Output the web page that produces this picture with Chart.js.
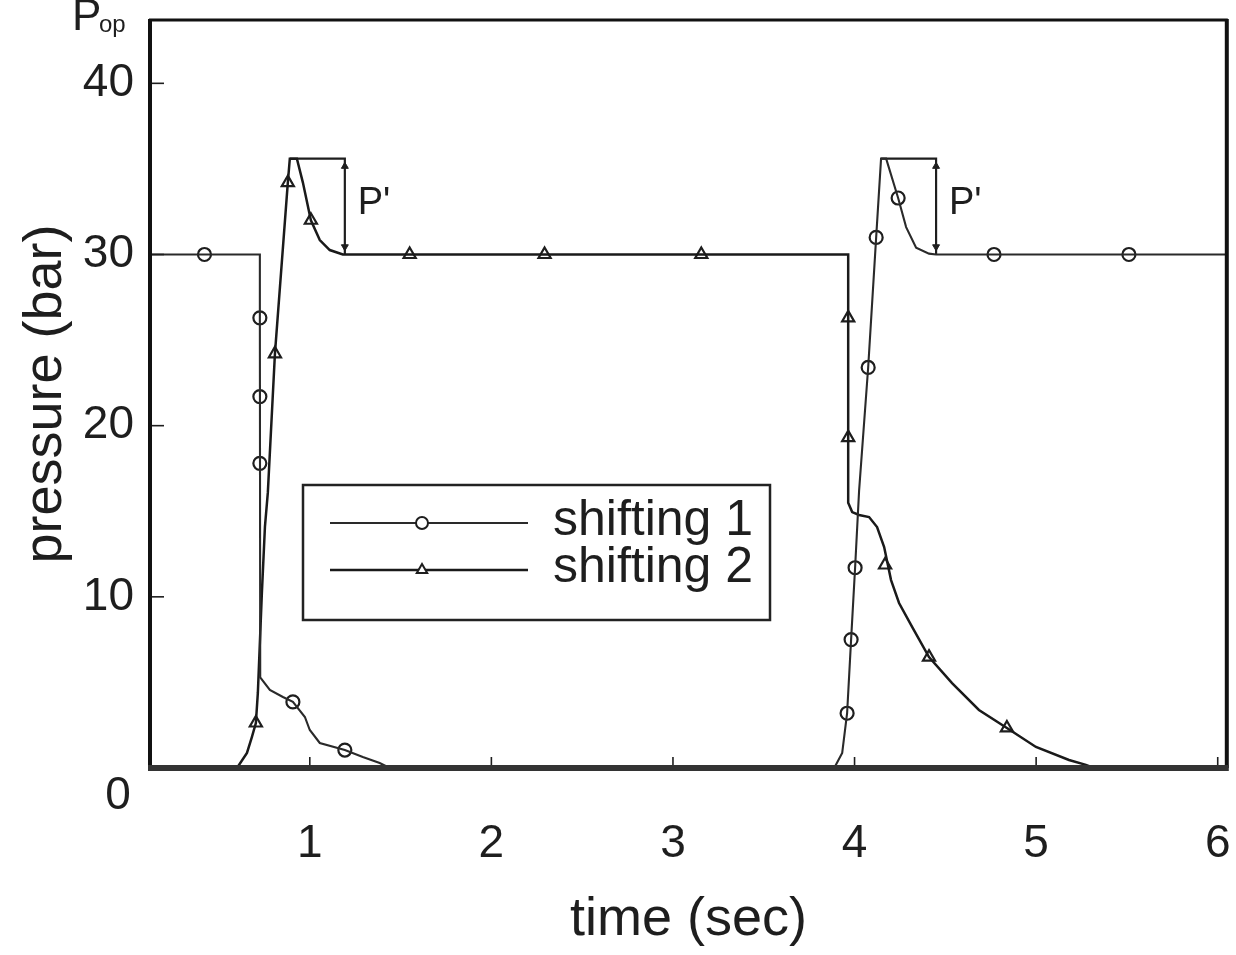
<!DOCTYPE html>
<html><head><meta charset="utf-8">
<script src="https://cdn.jsdelivr.net/npm/chart.js@4.4.1/dist/chart.umd.min.js"></script>
<style>html,body{margin:0;padding:0;background:#fff}#wrap{width:1236px;height:955px;position:relative}</style>
</head><body><div id="wrap"><canvas id="c" width="1236" height="955"></canvas></div>
<script>
// ---------- data (time in sec, pressure in bar) ----------
const seriesNames = ['shifting 1', 'shifting 2'];

const s1CurveX = [0, 0.725, 0.725, 0.727, 0.78, 0.852, 0.907, 0.973, 1.0, 1.055, 1.193, 1.292, 1.385, 1.44, 3.888, 3.932, 3.959, 3.981, 4.003, 4.025, 4.075, 4.119, 4.146, 4.174, 4.24, 4.284, 4.339, 4.41, 4.449, 6.1];
const s1CurveY = [30, 30, 26.3, 5.3, 4.56, 4.15, 3.86, 2.98, 2.22, 1.46, 1.05, 0.64, 0.29, 0, 0, 0.88, 3.2, 7.5, 11.7, 16.2, 23.4, 31.0, 35.6, 35.6, 33.3, 31.6, 30.4, 30.05, 30, 30];
const s1MarkX = [0.42, 0.725, 0.725, 0.725, 0.907, 1.193, 3.959, 3.981, 4.003, 4.075, 4.119, 4.24, 4.768, 5.511];
const s1MarkY = [30, 26.3, 21.7, 17.8, 3.86, 1.05, 3.2, 7.5, 11.7, 23.4, 31.0, 33.3, 30, 30];

const s2CurveX = [0, 0.599, 0.654, 0.681, 0.703, 0.714, 0.736, 0.753, 0.769, 0.808, 0.879, 0.89, 0.929, 0.962, 1.006, 1.055, 1.11, 1.182, 3.965, 3.965, 3.987, 4.025, 4.08, 4.124, 4.163, 4.201, 4.245, 4.317, 4.41, 4.537, 4.685, 4.839, 4.999, 5.181, 5.274, 5.318, 6.1];
const s2CurveY = [0, 0, 0.88, 1.81, 2.63, 4.4, 10.2, 14.1, 16.1, 24.2, 34.2, 35.6, 35.6, 34.2, 32.0, 30.84, 30.26, 30, 30, 15.5, 14.95, 14.78, 14.66, 14.08, 12.91, 10.98, 9.64, 8.24, 6.48, 4.96, 3.39, 2.34, 1.23, 0.47, 0.18, 0, 0];
const s2MarkX = [0.703, 0.808, 0.879, 1.006, 1.55, 2.293, 3.156, 3.965, 3.965, 4.168, 4.41, 4.839];
const s2MarkY = [2.63, 24.2, 34.2, 32.0, 30, 30, 30, 26.3, 19.3, 11.86, 6.48, 2.34];

// P' overshoot brackets
const pBracket1X = [0.89, 1.193, 1.193];
const pBracket2X = [4.146, 4.449, 4.449];
const pBracketY = [35.6, 35.6, 30];
const pArrowX = [1.193, 1.193, 4.449, 4.449];
const pArrowY = [35.15, 30.45, 35.15, 30.45];
const pLabelX = [1.264, 4.52];
const pLabelY = 33.0;
const pLabelText = "P'";

const xTicks = [1, 2, 3, 4, 5, 6];
const yTicks = [10, 20, 30, 40];
const xRange = [0.12, 6.05];
const yRange = [0, 43.7];
const xTitle = 'time (sec)';
const yTitle = 'pressure (bar)';
const cornerLabel = '0';

// ---------- helpers ----------
const pts = (xs, ys) => xs.map((x, i) => ({x, y: Array.isArray(ys) ? ys[i] : ys}));
const FONT = '"Liberation Sans", Arial, Helvetica, sans-serif';
const INK = '#1e1e1e';

const lineStyle = [
  {color: '#2a2a2a', width: 2.1, marker: 'circle', r: 6.5},
  {color: '#1a1a1a', width: 2.5, marker: 'triangle', r: 7}
];

function drawMarker(ctx, style, x, y, r) {
  ctx.save();
  ctx.beginPath();
  if (style === 'circle') {
    ctx.arc(x, y, r, 0, Math.PI * 2);
  } else {
    ctx.moveTo(x, y - r);
    ctx.lineTo(x + r * 0.87, y + r * 0.5);
    ctx.lineTo(x - r * 0.87, y + r * 0.5);
    ctx.closePath();
  }
  ctx.fillStyle = '#fff';
  ctx.fill();
  ctx.lineWidth = 2;
  ctx.strokeStyle = INK;
  ctx.stroke();
  ctx.restore();
}

const overlay = {
  id: 'overlay',
  afterDatasetsDraw(chart) {
    const {ctx, chartArea: ca, scales: {x, y}} = chart;
    ctx.save();
    // inward tick marks
    ctx.strokeStyle = INK;
    ctx.lineWidth = 1.6;
    xTicks.forEach(v => {
      const px = x.getPixelForValue(v);
      if (px > ca.right - 4) return;
      ctx.beginPath(); ctx.moveTo(px, ca.bottom); ctx.lineTo(px, ca.bottom - 11); ctx.stroke();
    });
    yTicks.forEach(v => {
      const py = y.getPixelForValue(v);
      ctx.beginPath(); ctx.moveTo(ca.left, py); ctx.lineTo(ca.left + 14, py); ctx.stroke();
    });
    // frame
    ctx.strokeStyle = '#111';
    ctx.lineWidth = 3; ctx.beginPath(); ctx.moveTo(ca.left - 1, ca.top); ctx.lineTo(ca.right + 1, ca.top); ctx.stroke();
    ctx.lineWidth = 4; ctx.beginPath(); ctx.moveTo(ca.left, ca.top - 1); ctx.lineTo(ca.left, ca.bottom); ctx.stroke();
    ctx.beginPath(); ctx.moveTo(ca.right, ca.top - 1); ctx.lineTo(ca.right, ca.bottom); ctx.stroke();
    ctx.strokeStyle = '#333';
    ctx.lineWidth = 6; ctx.beginPath(); ctx.moveTo(ca.left - 2, ca.bottom); ctx.lineTo(ca.right + 2, ca.bottom); ctx.stroke();

    // corner "0" label
    ctx.fillStyle = INK;
    ctx.font = '46px ' + FONT;
    ctx.textAlign = 'center'; ctx.textBaseline = 'middle';
    ctx.fillText(cornerLabel, ca.left - 32, y.getPixelForValue(0) + 28);

    // P' labels
    ctx.font = '38px ' + FONT;
    ctx.textAlign = 'left'; ctx.textBaseline = 'middle';
    pLabelX.forEach(v => ctx.fillText(pLabelText, x.getPixelForValue(v), y.getPixelForValue(pLabelY)));

    // P_op label (clipped at the top)
    ctx.font = '44px ' + FONT;
    ctx.textAlign = 'left'; ctx.textBaseline = 'alphabetic';
    ctx.fillText('P', 72, 30);
    ctx.font = '24px ' + FONT;
    ctx.fillText('op', 99, 32);

    // legend box
    const L = {x: 303, y: 485, w: 467, h: 135};
    ctx.fillStyle = '#fff';
    ctx.fillRect(L.x, L.y, L.w, L.h);
    ctx.strokeStyle = '#222'; ctx.lineWidth = 2.5;
    ctx.strokeRect(L.x, L.y, L.w, L.h);
    const rows = [523, 570];
    seriesNames.forEach((name, i) => {
      const st = lineStyle[i];
      ctx.strokeStyle = st.color; ctx.lineWidth = st.width;
      ctx.beginPath(); ctx.moveTo(L.x + 27, rows[i]); ctx.lineTo(L.x + 225, rows[i]); ctx.stroke();
      drawMarker(ctx, st.marker, L.x + 119, rows[i], 6);
      ctx.fillStyle = INK;
      ctx.font = '50px ' + FONT;
      ctx.textAlign = 'left'; ctx.textBaseline = 'middle';
      ctx.fillText(name, L.x + 250, rows[i] - 2);
    });
    ctx.restore();
  }
};

const datasets = [
  {label: seriesNames[0], data: pts(s1CurveX, s1CurveY), borderColor: lineStyle[0].color, borderWidth: lineStyle[0].width, pointRadius: 0, showLine: true, tension: 0},
  {label: seriesNames[1], data: pts(s2CurveX, s2CurveY), borderColor: lineStyle[1].color, borderWidth: lineStyle[1].width, pointRadius: 0, showLine: true, tension: 0},
  {label: 'bracket1', data: pts(pBracket1X, pBracketY), borderColor: INK, borderWidth: 2.2, pointRadius: 0, showLine: true},
  {label: 'bracket2', data: pts(pBracket2X, pBracketY), borderColor: INK, borderWidth: 2.2, pointRadius: 0, showLine: true},
  {label: 'arrows', data: pts(pArrowX, pArrowY), showLine: false, pointStyle: 'triangle', pointRadius: 4, pointRotation: [0, 180, 0, 180], backgroundColor: INK, borderColor: INK, borderWidth: 1},
  {label: seriesNames[0] + ' markers', data: pts(s1MarkX, s1MarkY), showLine: false, pointStyle: 'circle', pointRadius: lineStyle[0].r, backgroundColor: '#fff', borderColor: INK, borderWidth: 2.2},
  {label: seriesNames[1] + ' markers', data: pts(s2MarkX, s2MarkY), showLine: false, pointStyle: 'triangle', pointRadius: lineStyle[1].r, backgroundColor: '#fff', borderColor: INK, borderWidth: 2.2}
];

new Chart(document.getElementById('c'), {
  type: 'scatter',
  data: {datasets},
  options: {
    responsive: false,
    animation: false,
    devicePixelRatio: 1,
    layout: {padding: {top: 20, right: 8, left: 0, bottom: 0}},
    plugins: {legend: {display: false}, tooltip: {enabled: false}},
    scales: {
      x: {
        type: 'linear', min: xRange[0], max: xRange[1],
        grid: {display: false}, border: {display: false},
        afterBuildTicks: s => { s.ticks = xTicks.map(v => ({value: v})); },
        afterFit: s => { s.height = 187; s.paddingLeft = 0; s.paddingRight = 0; },
        ticks: {color: INK, font: {family: FONT, size: 46}, padding: 41, maxRotation: 0, autoSkip: false, callback: v => String(v)},
        title: {display: true, text: xTitle, color: INK, font: {family: FONT, size: 54}, padding: {top: 0, bottom: 2}}
      },
      y: {
        type: 'linear', min: yRange[0], max: yRange[1],
        grid: {display: false}, border: {display: false},
        afterBuildTicks: s => { s.ticks = yTicks.map(v => ({value: v})); },
        afterFit: s => { s.width = 150; s.paddingTop = 0; s.paddingBottom = 0; },
        ticks: {color: INK, font: {family: FONT, size: 46}, padding: 8, autoSkip: false, callback: v => String(v)},
        title: {display: true, text: yTitle, color: INK, font: {family: FONT, size: 54}, padding: {top: 14, bottom: 0}}
      }
    }
  },
  plugins: [overlay]
});
</script>
</body></html>
